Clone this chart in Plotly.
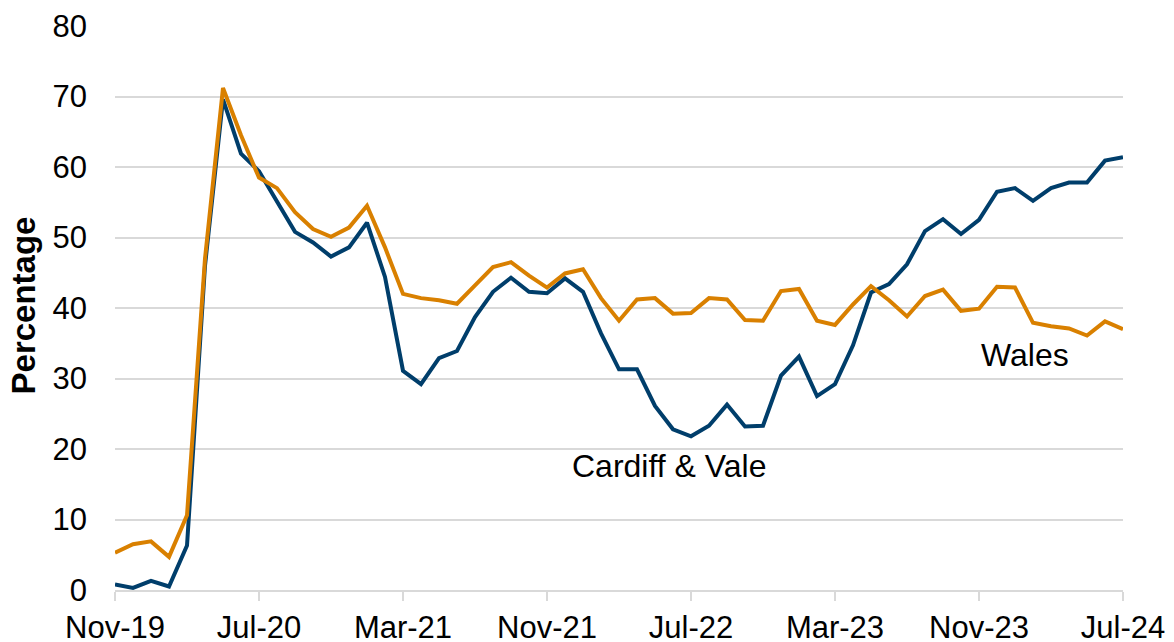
import plotly.graph_objects as go

months = [
    "Nov-19", "Dec-19",
    "Jan-20", "Feb-20", "Mar-20", "Apr-20", "May-20", "Jun-20", "Jul-20", "Aug-20", "Sep-20", "Oct-20", "Nov-20", "Dec-20",
    "Jan-21", "Feb-21", "Mar-21", "Apr-21", "May-21", "Jun-21", "Jul-21", "Aug-21", "Sep-21", "Oct-21", "Nov-21", "Dec-21",
    "Jan-22", "Feb-22", "Mar-22", "Apr-22", "May-22", "Jun-22", "Jul-22", "Aug-22", "Sep-22", "Oct-22", "Nov-22", "Dec-22",
    "Jan-23", "Feb-23", "Mar-23", "Apr-23", "May-23", "Jun-23", "Jul-23", "Aug-23", "Sep-23", "Oct-23", "Nov-23", "Dec-23",
    "Jan-24", "Feb-24", "Mar-24", "Apr-24", "May-24", "Jun-24", "Jul-24",
]

cardiff_vale = [0.8, 0.3, 1.3, 0.5, 6.3, 46.0, 69.6, 61.9, 59.4, 55.0, 50.8, 49.3, 47.3, 48.6,
                52.1, 44.4, 31.1, 29.2, 32.9, 33.9, 38.7, 42.3, 44.3, 42.3, 42.1, 44.2,
                42.3, 36.4, 31.3, 31.3, 26.1, 22.8, 21.8, 23.3, 26.3, 23.2, 23.3, 30.4,
                33.1, 27.5, 29.2, 34.7, 42.2, 43.4, 46.2, 50.9, 52.6, 50.5, 52.5, 56.5,
                57.0, 55.2, 57.0, 57.8, 57.8, 60.9, 61.4]

wales = [5.3, 6.5, 6.9, 4.7, 10.6, 47.0, 71.2, 64.5, 58.5, 57.0, 53.6, 51.2, 50.1, 51.4,
         54.5, 48.6, 42.0, 41.4, 41.1, 40.6, 43.2, 45.8, 46.5, 44.6, 42.9, 44.9,
         45.5, 41.4, 38.2, 41.2, 41.4, 39.2, 39.3, 41.4, 41.2, 38.3, 38.2, 42.4,
         42.7, 38.2, 37.6, 40.5, 43.1, 41.1, 38.8, 41.7, 42.6, 39.6, 39.9, 43.0,
         42.9, 37.9, 37.4, 37.1, 36.1, 38.1, 37.0]

tick_labels = ["Nov-19", "Jul-20", "Mar-21", "Nov-21", "Jul-22", "Mar-23", "Nov-23", "Jul-24"]

FONT = "Liberation Sans, Arial, sans-serif"
BLUE = "#003e6b"
ORANGE = "#d98000"
GRID = "#d9d9d9"

fig = go.Figure()
fig.add_trace(go.Scatter(x=months, y=cardiff_vale, mode="lines", name="Cardiff & Vale",
                         line=dict(color=BLUE, width=4)))
fig.add_trace(go.Scatter(x=months, y=wales, mode="lines", name="Wales",
                         line=dict(color=ORANGE, width=4)))

fig.update_layout(
    width=1174, height=642, autosize=False,
    margin=dict(l=115, r=51, t=26, b=52),
    plot_bgcolor="white", paper_bgcolor="white",
    showlegend=False,
    font=dict(family=FONT, size=31, color="black"),
    xaxis=dict(
        type="category", range=[0, len(months) - 1],
        categoryorder="array", categoryarray=months,
        tickvals=tick_labels, ticktext=tick_labels,
        showgrid=False, zeroline=False,
        showline=True, linecolor=GRID, linewidth=2,
        ticks="outside", ticklen=9, tickwidth=2, tickcolor=GRID,
        tickfont=dict(family=FONT, size=31, color="black"),
        ticklabelstandoff=0, automargin=False,
    ),
    yaxis=dict(
        range=[0, 80], dtick=10, tick0=0,
        showgrid=True, gridcolor=GRID, gridwidth=2,
        zeroline=False, showline=False, ticks="",
        tickfont=dict(family=FONT, size=31, color="black"),
        ticklabelstandoff=27, automargin=False,
    ),
    annotations=[
        dict(text="<b>Percentage</b>", xref="paper", yref="paper", x=-0.091, y=0.505,
             textangle=-90, showarrow=False, xanchor="center", yanchor="middle",
             font=dict(family=FONT, size=33, color="black")),
        dict(text="Cardiff & Vale", xref="paper", yref="paper", x=0.550, y=0.22,
             showarrow=False, xanchor="center", yanchor="middle",
             font=dict(family=FONT, size=32, color="black")),
        dict(text="Wales", xref="paper", yref="paper", x=0.903, y=0.417,
             showarrow=False, xanchor="center", yanchor="middle",
             font=dict(family=FONT, size=32, color="black")),
    ],
)

fig.write_html("out.html", config={"displayModeBar": False},
               post_script="document.body.style.margin='0';document.body.style.overflow='hidden';")
